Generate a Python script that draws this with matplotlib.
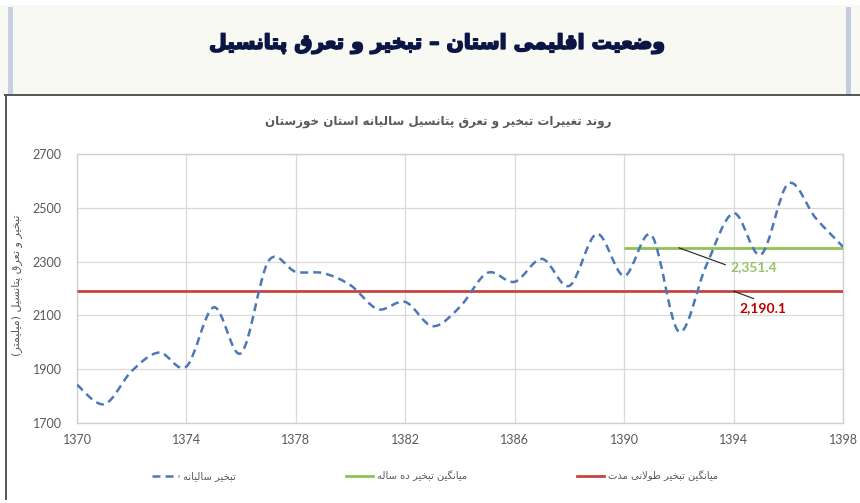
import matplotlib
matplotlib.use("Agg")
import matplotlib.pyplot as plt
import matplotlib.patheffects as pe
from matplotlib.path import Path
from matplotlib.patches import PathPatch, Rectangle
from matplotlib.lines import Line2D

# ---------------- data ----------------
years = [1370, 1371, 1372, 1373, 1374, 1375, 1376, 1377, 1378, 1379,
         1380, 1381, 1382, 1383, 1384, 1385, 1386, 1387, 1388, 1389,
         1390, 1391, 1392, 1393, 1394, 1395, 1396, 1397, 1398]
evap = [1842, 1770, 1893, 1962, 1910, 2130, 1960, 2302, 2262, 2257,
        2212, 2123, 2150, 2060, 2132, 2258, 2225, 2310, 2210, 2403,
        2247, 2398, 2040, 2285, 2480, 2326, 2590, 2462, 2355]
ten_year_start = 1390
ten_year_mean = 2351.4
long_term_mean = 2190.1

header_title = "وضعیت اقلیمی استان – تبخیر و تعرق پتانسیل"
chart_title = "روند تغییرات تبخیر و تعرق پتانسیل سالیانه استان خوزستان"
y_label = "تبخیر و تعرق پتانسیل (میلیمتر)"
legend_labels = ["تبخیر سالیانه", "میانگین تبخیر ده ساله", "میانگین تبخیر طولانی مدت"]
x_ticks = [1370, 1374, 1378, 1382, 1386, 1390, 1394, 1398]
y_ticks = [1700, 1900, 2100, 2300, 2500, 2700]

# ---------------- Persian shaping ----------------
DUAL = {
    'ب': ('\uFE8F', '\uFE90', '\uFE91', '\uFE92'),
    'پ': ('\uFB56', '\uFB57', '\uFB58', '\uFB59'),
    'ت': ('\uFE95', '\uFE96', '\uFE97', '\uFE98'),
    'خ': ('\uFEA5', '\uFEA6', '\uFEA7', '\uFEA8'),
    'س': ('\uFEB1', '\uFEB2', '\uFEB3', '\uFEB4'),
    'ض': ('\uFEBD', '\uFEBE', '\uFEBF', '\uFEC0'),
    'ط': ('\uFEC1', '\uFEC2', '\uFEC3', '\uFEC4'),
    'ع': ('\uFEC9', '\uFECA', '\uFECB', '\uFECC'),
    'غ': ('\uFECD', '\uFECE', '\uFECF', '\uFED0'),
    'ق': ('\uFED5', '\uFED6', '\uFED7', '\uFED8'),
    'ل': ('\uFEDD', '\uFEDE', '\uFEDF', '\uFEE0'),
    'م': ('\uFEE1', '\uFEE2', '\uFEE3', '\uFEE4'),
    'ن': ('\uFEE5', '\uFEE6', '\uFEE7', '\uFEE8'),
    'ه': ('\uFEE9', '\uFEEA', '\uFEEB', '\uFEEC'),
    'ی': ('\uFBFC', '\uFBFD', '\uFBFE', '\uFBFF'),
    'گ': ('\uFB92', '\uFB93', '\uFB94', '\uFB95'),
}
RIGHT = {
    'ا': ('\uFE8D', '\uFE8E'),
    'د': ('\uFEA9', '\uFEAA'),
    'ر': ('\uFEAD', '\uFEAE'),
    'ز': ('\uFEAF', '\uFEB0'),
    'و': ('\uFEED', '\uFEEE'),
}


def shape(s):
    s = s.replace('ي', 'ی').replace('ى', 'ی')
    ch = list(s)
    n = len(ch)
    out = []
    i = 0
    while i < n:
        c = ch[i]
        prev = ch[i - 1] if i > 0 else ''
        is_l = c in DUAL or c in RIGHT
        jp = (prev in DUAL) and is_l
        if c == 'ل' and i + 1 < n and ch[i + 1] == 'ا':
            out.append('\uFEFC' if jp else '\uFEFB')
            i += 2
            continue
        nxt = ch[i + 1] if i + 1 < n else ''
        if c in DUAL:
            jn = nxt in DUAL or nxt in RIGHT
            idx = 3 if (jp and jn) else 1 if jp else 2 if jn else 0
            out.append(DUAL[c][idx])
        elif c in RIGHT:
            out.append(RIGHT[c][1 if jp else 0])
        else:
            out.append(c)
        i += 1
    vis = ''.join(reversed(out))
    return vis.translate(str.maketrans('()', ')('))


# ---------------- figure ----------------
plt.rcParams['font.family'] = ['DejaVu Sans']
fig = plt.figure(figsize=(8.6, 5.03), dpi=100)
fig.patch.set_facecolor('white')

# header band
fig.patches.append(Rectangle((0, 1 - 95 / 503), 1, 90 / 503, transform=fig.transFigure,
                             facecolor='#f9f9f4', edgecolor='none', zorder=0))
fig.patches.append(Rectangle((8 / 860, 1 - 95 / 503), 5 / 860, 88 / 503, transform=fig.transFigure,
                             facecolor='#c8cfe2', edgecolor='none', zorder=1))
fig.patches.append(Rectangle((846 / 860, 1 - 95 / 503), 5 / 860, 88 / 503, transform=fig.transFigure,
                             facecolor='#c3cbdf', edgecolor='none', zorder=1))
# chart box border (top + left)
fig.add_artist(Line2D([5 / 860, 1], [1 - 95 / 503, 1 - 95 / 503], transform=fig.transFigure,
                      color='#555555', lw=1.4))
fig.add_artist(Line2D([5.5 / 860, 5.5 / 860], [1 - 95 / 503, 1 - 499 / 503], transform=fig.transFigure,
                      color='#555555', lw=1.4))

fig.text(438 / 860, 1 - 44 / 503, shape(header_title), ha='center', va='center',
         fontsize=14.6, fontweight='bold', color='#0b1645',
         path_effects=[pe.withStroke(linewidth=1.2, foreground='#0b1645')])
fig.text(438 / 860, 1 - 122 / 503, shape(chart_title), ha='center', va='center',
         fontsize=8.6, fontweight='bold', color='#595959')
fig.text(17 / 860, 1 - 285 / 503, shape(y_label), ha='center', va='center',
         rotation=90, fontsize=8, color='#595959')

ax = fig.add_axes([77 / 860, 1 - 423 / 503, (843 - 77) / 860, (423 - 154) / 503])
ax.set_xlim(1370, 1398)
ax.set_ylim(1700, 2700)
ax.set_xticks(x_ticks)
ax.set_yticks(y_ticks)
ax.grid(True, color='#d9d9d9', lw=0.9)
ax.set_axisbelow(True)
for sp in ax.spines.values():
    sp.set_color('#d0d0d0')
    sp.set_linewidth(1.0)
ax.tick_params(length=0, labelsize=9, labelcolor='#595959')
ax.tick_params(axis='x', pad=8)
ax.tick_params(axis='y', pad=11)
for lab in ax.get_xticklabels() + ax.get_yticklabels():
    lab.set_family('Lato')

# smoothed line (Catmull-Rom style Bezier through the annual values)
pts = list(zip(years, evap))
verts = [pts[0]]
codes = [Path.MOVETO]
for i in range(len(pts) - 1):
    p0 = pts[i - 1] if i > 0 else pts[i]
    p1 = pts[i]
    p2 = pts[i + 1]
    p3 = pts[i + 2] if i + 2 < len(pts) else pts[i + 1]
    c1 = (p1[0] + (p2[0] - p0[0]) / 6, p1[1] + (p2[1] - p0[1]) / 6)
    c2 = (p2[0] - (p3[0] - p1[0]) / 6, p2[1] - (p3[1] - p1[1]) / 6)
    verts += [c1, c2, p2]
    codes += [Path.CURVE4] * 3
blue = '#4d78b8'
ax.add_patch(PathPatch(Path(verts, codes), facecolor='none', edgecolor=blue,
                       lw=1.8, linestyle=(0, (3.2, 2.0)), zorder=4, capstyle='butt'))

green = '#92c155'
red = '#c8443f'
ax.hlines(ten_year_mean, ten_year_start, years[-1], color=green, lw=2.0, zorder=3)
ax.hlines(long_term_mean, years[0], years[-1], color=red, lw=2.0, zorder=3)

ax.annotate(f"{ten_year_mean:,.1f}", xy=(1392.0, ten_year_mean), xytext=(1393.9, 2281),
            ha='left', va='center', fontsize=10, fontweight='bold', color='#9ac464',
            family='Lato',
            arrowprops=dict(arrowstyle='-', color='#222222', lw=0.8, relpos=(0, 0.5),
                            shrinkA=2, shrinkB=0), zorder=6)
ax.annotate(f"{long_term_mean:,.1f}", xy=(1394.0, long_term_mean), xytext=(1394.2, 2128),
            ha='left', va='center', fontsize=10, fontweight='bold', color='#c00000',
            family='Lato',
            arrowprops=dict(arrowstyle='-', color='#222222', lw=0.8, relpos=(0.5, 1.0),
                            shrinkA=1, shrinkB=0), zorder=6)

handles = [Line2D([], [], color=blue, lw=1.8, linestyle=(0, (3.2, 2.0))),
           Line2D([], [], color=green, lw=2.0),
           Line2D([], [], color=red, lw=2.0)]
leg = fig.legend(handles, [shape(t) for t in legend_labels], ncol=3,
                 loc='center left', bbox_to_anchor=(152 / 860, 1 - 476 / 503),
                 frameon=False, fontsize=7.2, handlelength=2.7, handletextpad=0.4,
                 columnspacing=11.0, borderaxespad=0, borderpad=0)
for t in leg.get_texts():
    t.set_color('#595959')

fig.savefig('out.png', dpi=100, facecolor=fig.get_facecolor())
